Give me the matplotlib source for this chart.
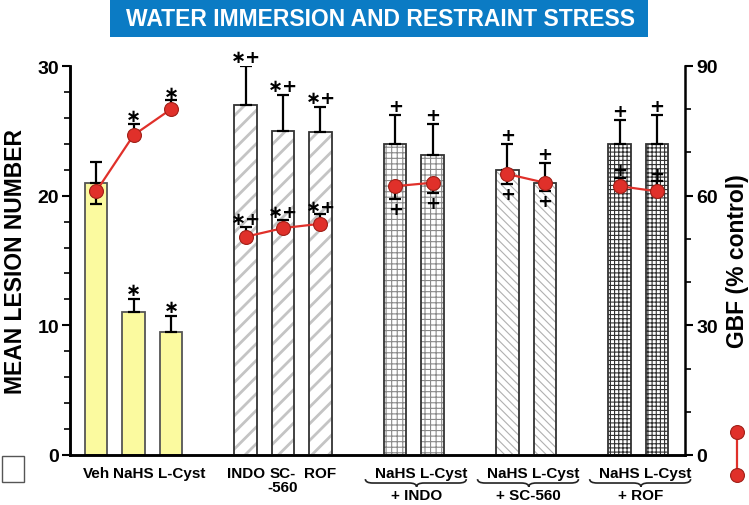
import matplotlib.pyplot as plt
import numpy as np
from matplotlib.patches import Rectangle, PathPatch
from matplotlib.path import Path
from matplotlib.lines import Line2D
from matplotlib.transforms import ScaledTranslation, blended_transform_factory

plt.rcParams['font.family'] = ['Liberation Sans', 'DejaVu Sans']
plt.rcParams['font.weight'] = 'bold'

labels = ["Veh", "NaHS", "L-Cyst", "INDO", "SC-\n-560", "ROF",
          "NaHS", "L-Cyst", "NaHS", "L-Cyst", "NaHS", "L-Cyst"]
xpos = [0, 1, 2, 4, 5, 6, 8, 9, 11, 12, 14, 15]

# mean lesion number (left axis)
lesion = [21.0, 11.0, 9.5, 27.0, 25.0, 24.9, 24.0, 23.1, 22.0, 21.0, 24.0, 24.0]
lesion_err = [1.6, 1.0, 1.2, 3.0, 2.8, 1.9, 2.2, 2.4, 2.0, 1.5, 1.8, 2.2]
lesion_mark = ["", "∗", "∗", "∗+", "∗+", "∗+", "+", "+", "+", "+", "+", "+"]

# gastric blood flow (right axis, % control)
gbf = [61.0, 74.0, 80.0, 50.5, 52.5, 53.5, 62.2, 63.0, 65.0, 63.0, 62.2, 61.0]
gbf_err_lo = [3.0, 0, 0, 0, 0, 0, 2.9, 2.4, 2.2, 1.9, 0, 0]
gbf_err_hi = [0, 2.6, 2.1, 2.3, 1.9, 2.2, 0, 0, 0, 0, 2.0, 2.3]
gbf_mark = ["", "∗", "∗", "∗+", "∗+", "∗+", "+", "+", "+", "+", "+", "+"]
gbf_lines = [[0, 1, 2], [3, 4, 5], [6, 7], [8, 9], [10, 11]]

groups = ["+ INDO", "+ SC-560", "+ ROF"]
group_center = [8.5, 11.5, 14.5]

# bar styles: (face, hatch, hatch colour)
styles = [("#fbfa9f", "", None)] * 3 + [("white", "//", "#c4c4c4")] * 3 \
    + [("white", "+++", "#8a8a8a")] * 2 + [("white", "\\\\\\\\", "#b0b0b0")] * 2 \
    + [("white", "++++", "#303030")] * 2

fig = plt.figure(figsize=(7.49, 5.06), dpi=100)
ax = fig.add_axes([70 / 749, 50 / 506, 615 / 749, 389 / 506])
ax2 = ax.twinx()

for x, v, (fc, h, hc) in zip(xpos, lesion, styles):
    if h:
        plt.rcParams['hatch.linewidth'] = 2.0 if h == "//" else 0.8
        ax.bar(x, v, width=0.6, color=fc, edgecolor=hc, hatch=h, linewidth=0, zorder=2)
        ax.bar(x, v, width=0.6, fill=False, edgecolor="#333333", linewidth=1.3, zorder=3)
    else:
        ax.bar(x, v, width=0.6, color=fc, edgecolor="#555555", linewidth=1.3, zorder=2)

ax.errorbar(xpos, lesion, yerr=[np.zeros(len(lesion)), lesion_err], fmt="none",
            ecolor="black", elinewidth=1.6, capsize=4.5, capthick=1.6, zorder=4)
for x, v, e, m in zip(xpos, lesion, lesion_err, lesion_mark):
    if m:
        ax.annotate(m, (x, v + e), xytext=(0, 0), textcoords="offset points",
                    ha="center", va="bottom", fontsize=13, family="DejaVu Sans", zorder=5)

ax.set_xlim(-0.70, 15.75)
ax.set_ylim(0, 30)
ax.set_yticks([0, 10, 20, 30])
ax.set_yticks(np.arange(0, 31, 2), minor=True)
ax.set_xticks(xpos)
ax.set_xticklabels(labels, fontsize=11, linespacing=1.0)
ax.tick_params(axis="x", length=0, pad=8)
ax.tick_params(axis="y", which="major", length=6, width=1.5, labelsize=14, pad=2)
ax.tick_params(axis="y", which="minor", length=4, width=1.2)
for lbl in ax.get_xticklabels():
    if lbl.get_text() == "L-Cyst":
        lbl.set_transform(lbl.get_transform() + ScaledTranslation(11 / 100, 0, fig.dpi_scale_trans))

ax2.set_ylim(0, 90)
ax2.set_yticks([0, 30, 60, 90])
ax2.set_yticks(np.arange(0, 91, 10), minor=True)
ax2.tick_params(axis="y", which="major", length=6, width=1.5, labelsize=14, pad=2)
ax2.tick_params(axis="y", which="minor", length=4, width=1.2)

for a in (ax, ax2):
    a.spines["top"].set_visible(False)
    for s in ("left", "right", "bottom"):
        a.spines[s].set_linewidth(1.8)
ax.spines["right"].set_visible(False)

for idx in gbf_lines:
    ax2.plot([xpos[i] for i in idx], [gbf[i] for i in idx], "-", color="#e0302a", lw=1.6, zorder=3)
ax2.errorbar(xpos, gbf, yerr=[gbf_err_lo, gbf_err_hi], fmt="none", ecolor="black",
             elinewidth=1.6, capsize=4.5, capthick=1.6, zorder=4)
ax2.plot(xpos, gbf, "o", color="#e0302a", markeredgecolor="#a02018", markersize=10,
         markeredgewidth=0.8, zorder=5)
for x, v, lo, hi, m in zip(xpos, gbf, gbf_err_lo, gbf_err_hi, gbf_mark):
    if not m:
        continue
    if hi > 0:
        ax2.annotate(m, (x, v + hi), xytext=(0, -1), textcoords="offset points",
                     ha="center", va="bottom", fontsize=13, family="DejaVu Sans", zorder=6)
    else:
        ax2.annotate(m, (x, v - lo), xytext=(0, -1), textcoords="offset points",
                     ha="center", va="top", fontsize=13, family="DejaVu Sans", zorder=6)

# braces under the combination groups
tr = blended_transform_factory(ax.transData, ax.transAxes)
for c, g in zip(group_center, groups):
    x0, x1, xm = c - 1.3, c + 1.4, c + 0.07
    yt, yb = -0.062, -0.082
    ym = (yt + yb) / 2
    r = 0.2
    verts = [(x0, yt), (x0, ym), (x0 + r, ym), (xm - r, ym), (xm, ym), (xm, yb),
             (xm, ym), (xm + r, ym), (x1 - r, ym), (x1, ym), (x1, yt)]
    codes = [Path.MOVETO, Path.CURVE3, Path.CURVE3, Path.LINETO, Path.CURVE3, Path.CURVE3,
             Path.CURVE3, Path.CURVE3, Path.LINETO, Path.CURVE3, Path.CURVE3]
    ax.add_patch(PathPatch(Path(verts, codes), fill=False, lw=1.2, color="#222222",
                           transform=tr, clip_on=False))
    ax.text(xm, -0.104, g, transform=tr, ha="center", va="center", fontsize=11)

# axis titles
fig.text(0.021, 0.484, "MEAN LESION NUMBER", rotation=90, ha="center", va="center", fontsize=16.5)
fig.text(0.984, 0.484, "GBF (% control)", rotation=90, ha="center", va="center", fontsize=16.5)

# title banner
fig.patches.append(Rectangle((110 / 749, 468 / 506), 538 / 749, 38 / 506, transform=fig.transFigure,
                             facecolor="#0b7bc4", edgecolor="none"))
fig.text(380 / 749, 487 / 506, "WATER IMMERSION AND RESTRAINT STRESS", color="white",
         ha="center", va="center", fontsize=16.5)

# legend symbols
fig.patches.append(Rectangle((2 / 749, 23 / 506), 22 / 749, 26 / 506, transform=fig.transFigure,
                             facecolor="white", edgecolor="#555555", lw=1.0))
fig.lines.append(Line2D([737 / 749, 737 / 749], [30 / 506, 73 / 506], transform=fig.transFigure,
                        color="#e0302a", lw=1.6, marker="o", markersize=10,
                        markeredgecolor="#a02018", markeredgewidth=0.8))

fig.savefig("out.png", dpi=100)
